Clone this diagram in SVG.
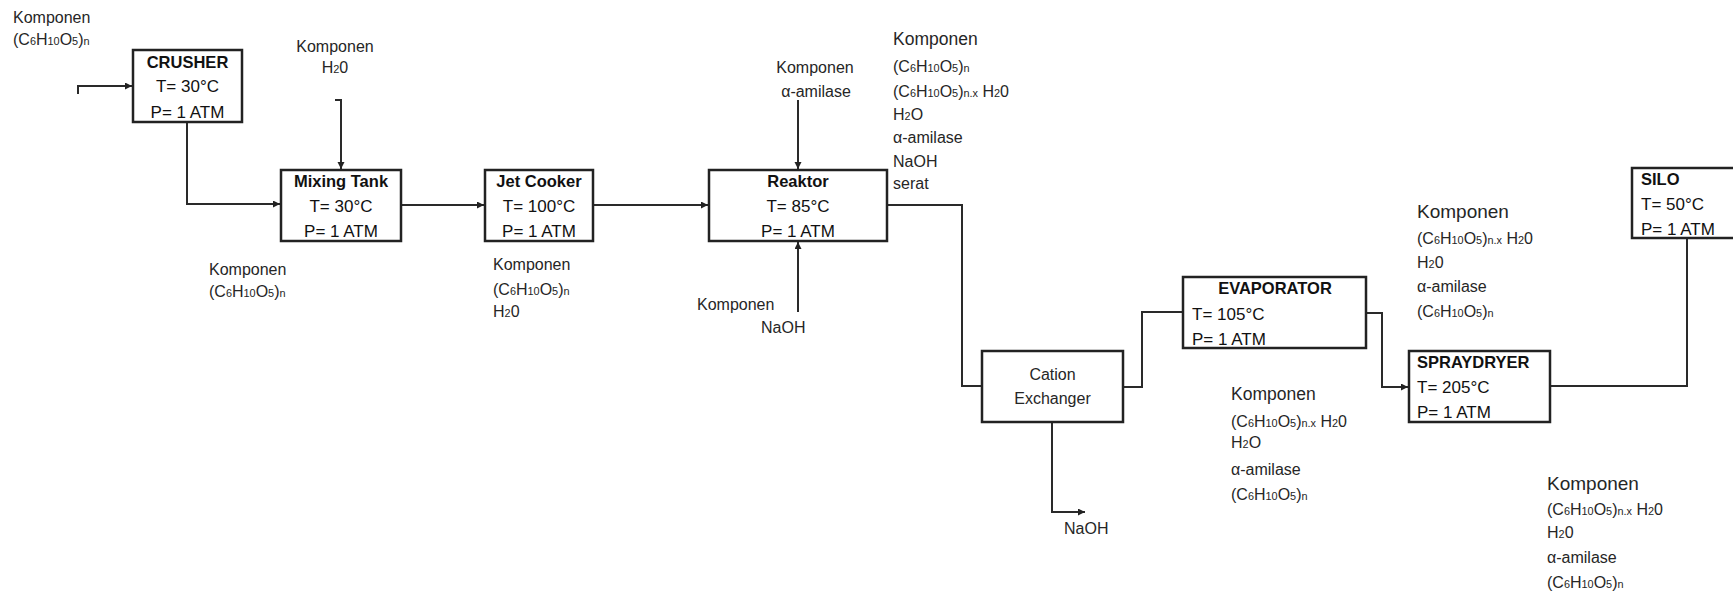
<svg xmlns="http://www.w3.org/2000/svg" width="1733" height="595" viewBox="0 0 1733 595">
<style>
text { font-family: "Liberation Sans", Arial, sans-serif; fill: #262626; }
.lbl { font-size: 16px; }
.hd { font-size: 17.5px; }
.hd2 { font-size: 19px; }
.bx { font-size: 17px; fill: #111; }
.b { font-weight: bold; font-size: 16.5px; fill: #111; }
.c { text-anchor: middle; }
.s { font-size: 68%; }
.box { fill: #fff; stroke: #222; stroke-width: 2.5; }
.ln { fill: none; stroke: #2a2a2a; stroke-width: 2; }
</style>
<defs>
<marker id="ah" markerUnits="userSpaceOnUse" markerWidth="8" markerHeight="8" refX="7" refY="3.5" orient="auto">
<path d="M0,0 L7,3.5 L0,7 z" fill="#222"/>
</marker>
</defs>
<rect width="1733" height="595" fill="#fff"/>

<g id="connectors">
<path class="ln" d="M78,94 V86 H132" marker-end="url(#ah)"/>
<path class="ln" d="M187,122 V204 H280" marker-end="url(#ah)"/>
<path class="ln" d="M335,100 H341 V169" marker-end="url(#ah)"/>
<path class="ln" d="M401,205 H484" marker-end="url(#ah)"/>
<path class="ln" d="M593,205 H708" marker-end="url(#ah)"/>
<path class="ln" d="M798,100 V169" marker-end="url(#ah)"/>
<path class="ln" d="M798,312 V242" marker-end="url(#ah)"/>
<path class="ln" d="M887,205 H962 V386 H982"/>
<path class="ln" d="M1123,387 H1142 V312 H1183"/>
<path class="ln" d="M1052,422 V512 H1085" marker-end="url(#ah)"/>
<path class="ln" d="M1366,313 H1382 V387 H1408" marker-end="url(#ah)"/>
<path class="ln" d="M1550,386 H1687 V238"/>
</g>

<g id="crusher">
<rect class="box" x="133" y="50" width="109" height="72"/>
<text class="b c" x="187.5" y="68">CRUSHER</text>
<text class="bx c" x="187.5" y="92">T= 30°C</text>
<text class="bx c" x="187.5" y="118">P= 1 ATM</text>
</g>

<g id="mixing-tank">
<rect class="box" x="281" y="170" width="120" height="71"/>
<text class="b c" x="341" y="187">Mixing Tank</text>
<text class="bx c" x="341" y="212">T= 30°C</text>
<text class="bx c" x="341" y="237">P= 1 ATM</text>
</g>

<g id="jet-cooker">
<rect class="box" x="485" y="170" width="108" height="71"/>
<text class="b c" x="539" y="187">Jet Cooker</text>
<text class="bx c" x="539" y="212">T= 100°C</text>
<text class="bx c" x="539" y="237">P= 1 ATM</text>
</g>

<g id="reaktor">
<rect class="box" x="709" y="170" width="178" height="71"/>
<text class="b c" x="798" y="187">Reaktor</text>
<text class="bx c" x="798" y="212">T= 85°C</text>
<text class="bx c" x="798" y="237">P= 1 ATM</text>
</g>

<g id="cation-exchanger">
<rect class="box" x="982" y="351" width="141" height="71"/>
<text class="lbl c" x="1052.5" y="380">Cation</text>
<text class="lbl c" x="1052.5" y="404">Exchanger</text>
</g>

<g id="evaporator">
<rect class="box" x="1183" y="277" width="183" height="71"/>
<text class="b c" x="1275" y="294">EVAPORATOR</text>
<text class="bx" x="1192" y="320">T= 105°C</text>
<text class="bx" x="1192" y="345">P= 1 ATM</text>
</g>

<g id="spraydryer">
<rect class="box" x="1409" y="351" width="141" height="71"/>
<text class="b" x="1417" y="368">SPRAYDRYER</text>
<text class="bx" x="1417" y="393">T= 205°C</text>
<text class="bx" x="1417" y="418">P= 1 ATM</text>
</g>

<g id="silo">
<rect class="box" x="1632" y="168" width="120" height="70"/>
<text class="b" x="1641" y="185">SILO</text>
<text class="bx" x="1641" y="210">T= 50°C</text>
<text class="bx" x="1641" y="235">P= 1 ATM</text>
</g>

<g id="labels">
<text class="lbl" x="13" y="23">Komponen</text>
<text class="lbl" x="13" y="45">(C<tspan class="s">6</tspan>H<tspan class="s">10</tspan>O<tspan class="s">5</tspan>)<tspan class="s">n</tspan></text>

<text class="lbl c" x="335" y="52">Komponen</text>
<text class="lbl c" x="335" y="73">H<tspan class="s">2</tspan>0</text>

<text class="lbl" x="209" y="275">Komponen</text>
<text class="lbl" x="209" y="297">(C<tspan class="s">6</tspan>H<tspan class="s">10</tspan>O<tspan class="s">5</tspan>)<tspan class="s">n</tspan></text>

<text class="lbl" x="493" y="270">Komponen</text>
<text class="lbl" x="493" y="295">(C<tspan class="s">6</tspan>H<tspan class="s">10</tspan>O<tspan class="s">5</tspan>)<tspan class="s">n</tspan></text>
<text class="lbl" x="493" y="317">H<tspan class="s">2</tspan>0</text>

<text class="lbl c" x="815" y="73">Komponen</text>
<text class="lbl c" x="816" y="97">α-amilase</text>

<text class="lbl" x="697" y="310">Komponen</text>
<text class="lbl" x="761" y="333">NaOH</text>

<text class="hd" x="893" y="45">Komponen</text>
<text class="lbl" x="893" y="72">(C<tspan class="s">6</tspan>H<tspan class="s">10</tspan>O<tspan class="s">5</tspan>)<tspan class="s">n</tspan></text>
<text class="lbl" x="893" y="97">(C<tspan class="s">6</tspan>H<tspan class="s">10</tspan>O<tspan class="s">5</tspan>)<tspan class="s">n.x</tspan> H<tspan class="s">2</tspan>0</text>
<text class="lbl" x="893" y="120">H<tspan class="s">2</tspan>O</text>
<text class="lbl" x="893" y="143">α-amilase</text>
<text class="lbl" x="893" y="167">NaOH</text>
<text class="lbl" x="893" y="189">serat</text>

<text class="lbl" x="1064" y="534">NaOH</text>

<text class="hd" x="1231" y="400">Komponen</text>
<text class="lbl" x="1231" y="427">(C<tspan class="s">6</tspan>H<tspan class="s">10</tspan>O<tspan class="s">5</tspan>)<tspan class="s">n.x</tspan> H<tspan class="s">2</tspan>0</text>
<text class="lbl" x="1231" y="448">H<tspan class="s">2</tspan>O</text>
<text class="lbl" x="1231" y="475">α-amilase</text>
<text class="lbl" x="1231" y="500">(C<tspan class="s">6</tspan>H<tspan class="s">10</tspan>O<tspan class="s">5</tspan>)<tspan class="s">n</tspan></text>

<text class="hd2" x="1417" y="218">Komponen</text>
<text class="lbl" x="1417" y="244">(C<tspan class="s">6</tspan>H<tspan class="s">10</tspan>O<tspan class="s">5</tspan>)<tspan class="s">n.x</tspan> H<tspan class="s">2</tspan>0</text>
<text class="lbl" x="1417" y="268">H<tspan class="s">2</tspan>0</text>
<text class="lbl" x="1417" y="292">α-amilase</text>
<text class="lbl" x="1417" y="317">(C<tspan class="s">6</tspan>H<tspan class="s">10</tspan>O<tspan class="s">5</tspan>)<tspan class="s">n</tspan></text>

<text class="hd2" x="1547" y="490">Komponen</text>
<text class="lbl" x="1547" y="515">(C<tspan class="s">6</tspan>H<tspan class="s">10</tspan>O<tspan class="s">5</tspan>)<tspan class="s">n.x</tspan> H<tspan class="s">2</tspan>0</text>
<text class="lbl" x="1547" y="538">H<tspan class="s">2</tspan>0</text>
<text class="lbl" x="1547" y="563">α-amilase</text>
<text class="lbl" x="1547" y="588">(C<tspan class="s">6</tspan>H<tspan class="s">10</tspan>O<tspan class="s">5</tspan>)<tspan class="s">n</tspan></text>
</g>
</svg>
